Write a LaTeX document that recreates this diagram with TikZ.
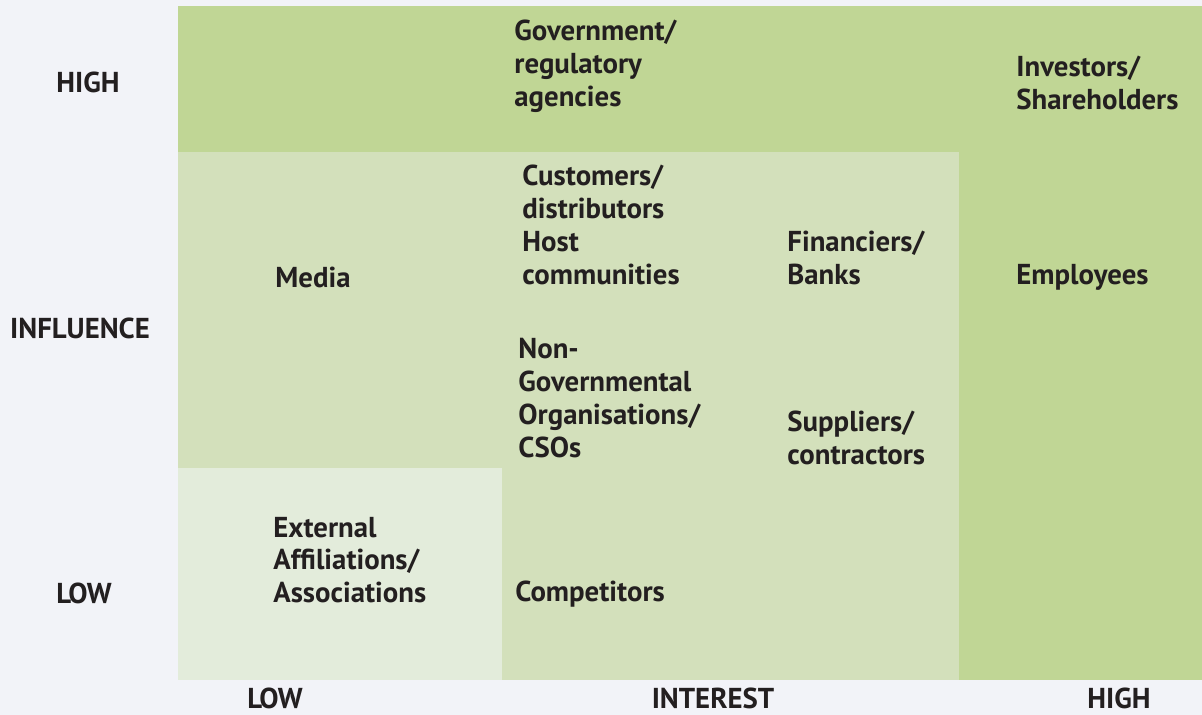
\documentclass[tikz,border=0pt]{standalone}
\usepackage{fontspec}
\setmainfont{PT Sans}
\usepackage{tikz}
\usetikzlibrary{positioning}

\definecolor{pagebg}{HTML}{F2F3F8}
\definecolor{highgreen}{HTML}{C0D695}
\definecolor{midgreen}{HTML}{D3E0BB}
\definecolor{lowgreen}{HTML}{E3ECDB}
\definecolor{inktext}{HTML}{231F20}

\tikzset{
    lbl/.style={anchor=west, inner sep=0pt, align=left, text=inktext,
        font=\fontsize{14.4}{16.4}\selectfont\bfseries},
    axis/.style={lbl, anchor=center, align=center}
}

\begin{document}
\begin{tikzpicture}[x=0.5pt, y=-0.5pt, node distance=2cm]
    \useasboundingbox (0,0) rectangle (1202,715);
    \fill [pagebg] (0,0) rectangle (1202,715);

    % Quadrants
    \fill [highgreen] (178,6) rectangle (1202,680);
    \fill [midgreen] (178,152) rectangle (959,680);
    \fill [lowgreen] (178,468) rectangle (502,680);

    % Influence axis
    \node [axis] (inhigh) at (88,82) {HIGH};
    \node [axis] (influence) at (80,328) {INFLUENCE};
    \node [axis] (inlow) at (84,593) {LOW};

    % Interest axis
    \node [axis, anchor=base] (itlow) at (275,708) {LOW};
    \node [axis, anchor=base] (interest) at (713,708) {INTEREST};
    \node [axis, anchor=base] (ithigh) at (1119,708) {HIGH};

    % Stakeholders
    \node [lbl] (govt) at (514,66) {Government/\\regulatory\\agencies};
    \node [lbl] (investors) at (1016,83) {Investors/\\Shareholders};
    \node [lbl] (customers) at (522,225) {Customers/\\distributors\\Host\\communities};
    \node [lbl] (media) at (275,277) {Media};
    \node [lbl] (financiers) at (787,258) {Financiers/\\Banks};
    \node [lbl] (employees) at (1016,277) {Employees};
    \node [lbl] (ngo) at (518,398) {Non-\\Governmental\\Organisations/\\CSOs};
    \node [lbl] (suppliers) at (787,438) {Suppliers/\\contractors};
    \node [lbl] (external) at (273,560) {External\\Affiliations/\\Associations};
    \node [lbl] (competitors) at (515,594) {Competitors};

\end{tikzpicture}
\end{document}
